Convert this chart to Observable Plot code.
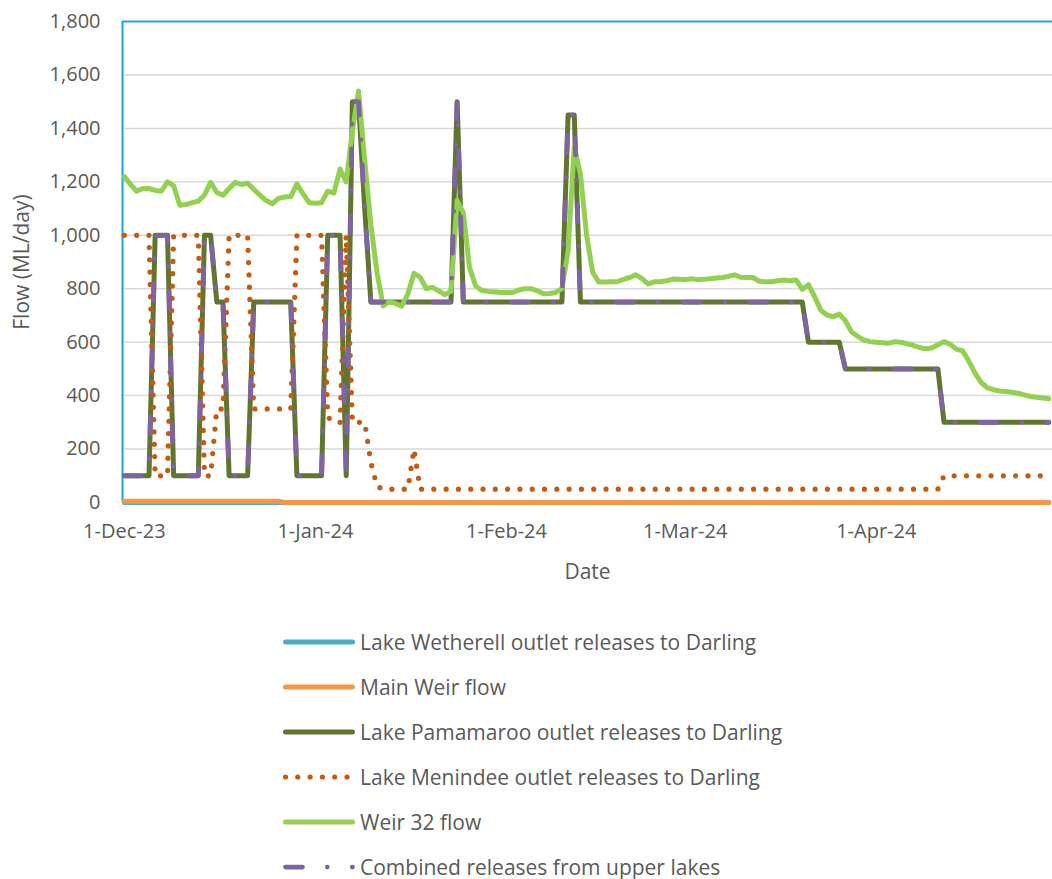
<!DOCTYPE html>
<html>
<head>
<meta charset="utf-8">
<script src="https://cdn.jsdelivr.net/npm/d3@7"></script>
<script src="https://cdn.jsdelivr.net/npm/@observablehq/plot@0.6"></script>
<style>
  html, body { margin: 0; padding: 0; background: #ffffff; }
  body { width: 1052px; height: 879px; overflow: hidden; font-family: "Open Sans", Lato, sans-serif; }
  #chart svg { display: block; }
  #legend { padding-top: 19.5px; }
  .row { display: flex; align-items: center; height: 45px; padding-left: 283px; color: #595959; font-size: 21px; white-space: nowrap; }
  .row svg { display: block; margin-right: 5px; flex: none; }
</style>
</head>
<body>
<div id="chart"></div>
<div id="legend"></div>
<script>
// ---------- data ----------
const startDate = "2023-12-01";            // first daily value
const tickDates = ["2023-12-01", "2024-01-01", "2024-02-01", "2024-03-01", "2024-04-01"];
const monthNames = ["Jan","Feb","Mar","Apr","May","Jun","Jul","Aug","Sep","Oct","Nov","Dec"];
const yTicks = [0, 200, 400, 600, 800, 1000, 1200, 1400, 1600, 1800];

const seriesNames = [
  "Lake Wetherell outlet releases to Darling",
  "Main Weir flow",
  "Lake Pamamaroo outlet releases to Darling",
  "Lake Menindee outlet releases to Darling",
  "Weir 32 flow",
  "Combined releases from upper lakes"
];

// daily values, 1-Dec-23 .. 30-Apr-24 (ML/day)
const wetherell = [
  0,0,0,0,0,0,0,0,0,0, 0,0,0,0,0,0,0,0,0,0, 0,0,0,0,0,0,0,0,0,0,
  0,0,0,0,0,0,0,0,0,0, 0,0,0,0,0,0,0,0,0,0, 0,0,0,0,0,0,0,0,0,0,
  0,0,0,0,0,0,0,0,0,0, 0,0,0,0,0,0,0,0,0,0, 0,0,0,0,0,0,0,0,0,0,
  0,0,0,0,0,0,0,0,0,0, 0,0,0,0,0,0,0,0,0,0, 0,0,0,0,0,0,0,0,0,0,
  0,0,0,0,0,0,0,0,0,0, 0,0,0,0,0,0,0,0,0,0, 0,0,0,0,0,0,0,0,0,0,
  0
];
const mainWeir = [
  5,5,5,5,5,5,5,5,5,5, 5,5,5,5,5,5,5,5,5,5, 5,5,5,5,5,5,0,0,0,0,
  0,0,0,0,0,0,0,0,0,0, 0,0,0,0,0,0,0,0,0,0, 0,0,0,0,0,0,0,0,0,0,
  0,0,0,0,0,0,0,0,0,0, 0,0,0,0,0,0,0,0,0,0, 0,0,0,0,0,0,0,0,0,0,
  0,0,0,0,0,0,0,0,0,0, 0,0,0,0,0,0,0,0,0,0, 0,0,0,0,0,0,0,0,0,0,
  0,0,0,0,0,0,0,0,0,0, 0,0,0,0,0,0,0,0,0,0, 0,0,0,0,0,0,0,0,0,0,
  0
];
const pamamaroo = [
  100,100,100,100,100,1000,1000,1000,100,100,
  100,100,100,1000,1000,750,750,100,100,100,
  100,750,750,750,750,750,750,750,100,100,
  100,100,100,1000,1000,1000,100,1500,1500,1100,
  750,750,750,750,750,750,750,750,750,750,
  750,750,750,750,1500,750,750,750,750,750,
  750,750,750,750,750,750,750,750,750,750,
  750,750,1450,1450,750,750,750,750,750,750,
  750,750,750,750,750,750,750,750,750,750,
  750,750,750,750,750,750,750,750,750,750,
  750,750,750,750,750,750,750,750,750,750,
  750,600,600,600,600,600,600,500,500,500,
  500,500,500,500,500,500,500,500,500,500,
  500,500,500,300,300,300,300,300,300,300,
  300,300,300,300,300,300,300,300,300,300,
  300
];
const menindee = [
  1000,1000,1000,1000,1000,100,100,100,1000,1000,
  1000,1000,1000,100,100,350,350,1000,1000,1000,
  1000,350,350,350,350,350,350,350,1000,1000,
  1000,1000,1000,320,300,300,1000,300,300,300,
  150,60,50,50,50,50,50,200,50,50,
  50,50,50,50,50,50,50,50,50,50,
  50,50,50,50,50,50,50,50,50,50,
  50,50,50,50,50,50,50,50,50,50,
  50,50,50,50,50,50,50,50,50,50,
  50,50,50,50,50,50,50,50,50,50,
  50,50,50,50,50,50,50,50,50,50,
  50,50,50,50,50,50,50,50,50,50,
  50,50,50,50,50,50,50,50,50,50,
  50,50,50,100,100,100,100,100,100,100,
  100,100,100,100,100,100,100,100,100,100,
  100
];
const weir32 = [
  1220,1190,1165,1175,1175,1168,1165,1200,1185,1112,
  1115,1122,1128,1150,1198,1160,1150,1175,1198,1190,
  1195,1172,1150,1130,1118,1138,1143,1145,1192,1155,
  1122,1120,1122,1165,1158,1248,1200,1390,1540,1280,
  1040,860,735,752,745,735,780,858,843,800,
  805,792,778,790,1130,1085,880,810,793,790,
  788,786,786,786,795,800,800,792,781,782,
  786,800,940,1330,1230,1000,860,825,825,826,
  826,835,842,852,838,818,826,826,830,836,
  835,834,837,834,835,837,840,842,846,852,
  843,842,842,828,826,826,830,833,830,833,
  798,815,770,720,702,695,705,680,638,622,
  608,602,600,598,596,602,600,594,588,580,
  575,578,590,602,592,574,568,530,485,450,
  430,422,417,415,413,409,403,397,394,391,
  388
];
const combined = [
  100,100,100,100,100,1000,1000,1000,100,100,
  100,100,100,1000,1000,750,750,100,100,100,
  100,750,750,750,750,750,750,750,100,100,
  100,100,100,1000,1000,1000,100,1500,1500,1100,
  750,750,750,750,750,750,750,750,750,750,
  750,750,750,750,1500,750,750,750,750,750,
  750,750,750,750,750,750,750,750,750,750,
  750,750,1450,1450,750,750,750,750,750,750,
  750,750,750,750,750,750,750,750,750,750,
  750,750,750,750,750,750,750,750,750,750,
  750,750,750,750,750,750,750,750,750,750,
  750,600,600,600,600,600,600,500,500,500,
  500,500,500,500,500,500,500,500,500,500,
  500,500,500,300,300,300,300,300,300,300,
  300,300,300,300,300,300,300,300,300,300,
  300
];

// ---------- styles ----------
const styles = [
  {stroke: "#4BACC6", strokeWidth: 5},
  {stroke: "#F79646", strokeWidth: 5},
  {stroke: "#5F7530", strokeWidth: 5},
  {stroke: "#C55A11", strokeWidth: 5.2, strokeDasharray: "0,12.3"},
  {stroke: "#92D050", strokeWidth: 5},
  {stroke: "#8064A2", strokeWidth: 4.75, strokeDasharray: "17,24.8,0,24.9"}
];
const allSeries = [wetherell, mainWeir, pamamaroo, menindee, weir32, combined];

const DAY = 86400000;
const t0 = new Date(startDate + "T00:00:00Z");
const rows = (vals) => vals.map((v, i) => ({date: new Date(t0.getTime() + i * DAY), value: v}));
const xStart = new Date(t0.getTime() - 0.3 * DAY);
const xEnd = new Date(t0.getTime() + 150.6 * DAY);
const fmtDate = d => `${d.getUTCDate()}-${monthNames[d.getUTCMonth()]}-${String(d.getUTCFullYear()).slice(2)}`;
const axisBlue = "#12A7E8";
const textColor = "#595959";
const font = "'Open Sans', Lato, sans-serif";

const lineMarks = allSeries.map((vals, k) =>
  Plot.line(rows(vals), {
    x: "date", y: "value",
    strokeLinecap: "round", strokeLinejoin: "round",
    ...styles[k]
  })
);

const chart = Plot.plot({
  width: 1052,
  height: 600,
  marginLeft: 122,
  marginRight: 0,
  marginTop: 21,
  marginBottom: 98,
  style: {fontFamily: font, fontSize: "20px", color: textColor, background: "#ffffff", overflow: "visible"},
  x: {type: "utc", domain: [xStart, xEnd]},
  y: {domain: [0, 1800]},
  marks: [
    Plot.gridY(yTicks.filter(v => v > 0 && v < 1800), {stroke: "#D9D9D9", strokeOpacity: 1, strokeWidth: 1.5}),
    Plot.axisY({ticks: yTicks, tickSize: 0, tickPadding: 22, tickFormat: d3.format(","), label: null, fill: textColor}),
    Plot.axisX({ticks: tickDates.map(s => new Date(s + "T00:00:00Z")), tickSize: 0, tickPadding: 21, tickFormat: fmtDate, label: null, fill: textColor}),
    Plot.ruleY([1800], {stroke: axisBlue, strokeWidth: 2}),
    Plot.ruleX([xStart], {stroke: axisBlue, strokeWidth: 2}),
    ...lineMarks,
    Plot.text(["Date"], {frameAnchor: "bottom", dy: 70, lineAnchor: "middle", textAnchor: "middle", fontSize: 21, fill: textColor}),
    Plot.text(["Flow (ML/day)"], {frameAnchor: "left", dx: -100, rotate: -90, textAnchor: "middle", lineAnchor: "middle", fontSize: 21, fill: textColor})
  ]
});
document.getElementById("chart").append(chart);

// ---------- legend ----------
const legend = document.getElementById("legend");
seriesNames.forEach((name, k) => {
  const row = document.createElement("div");
  row.className = "row";
  const s = styles[k];
  const svgNS = "http://www.w3.org/2000/svg";
  const sw = document.createElementNS(svgNS, "svg");
  sw.setAttribute("width", "72");
  sw.setAttribute("height", "12");
  const ln = document.createElementNS(svgNS, "line");
  ln.setAttribute("x1", "2.5"); ln.setAttribute("x2", "69.5");
  ln.setAttribute("y1", "6"); ln.setAttribute("y2", "6");
  ln.setAttribute("stroke", s.stroke);
  ln.setAttribute("stroke-width", s.strokeWidth);
  ln.setAttribute("stroke-linecap", "round");
  if (s.strokeDasharray) ln.setAttribute("stroke-dasharray", s.strokeDasharray);
  sw.append(ln);
  const label = document.createElement("span");
  label.textContent = name;
  row.append(sw, label);
  legend.append(row);
});
</script>
</body>
</html>
